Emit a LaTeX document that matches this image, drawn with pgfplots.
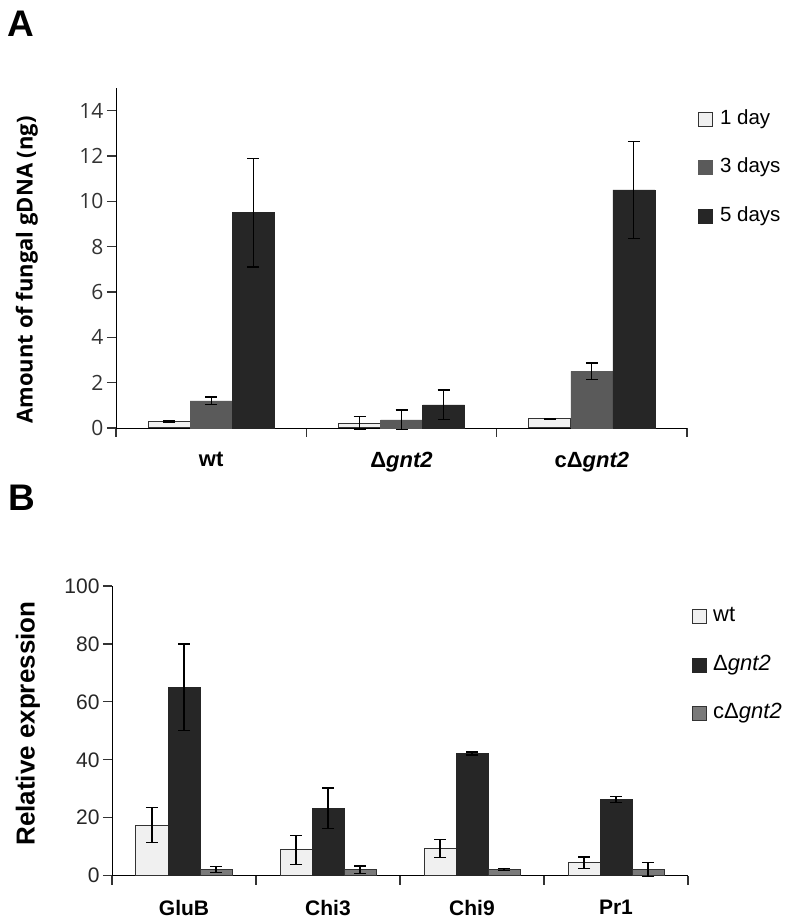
\documentclass[border=0pt]{standalone}
\usepackage{pgfplots}
\pgfplotsset{compat=1.18}
\usepackage{fontspec}
\setmainfont{Liberation Sans}
\newfontfamily\opensans{Open Sans}
\definecolor{light}{HTML}{F0F0F0}
\definecolor{midA}{HTML}{5A5A5A}
\definecolor{darkA}{HTML}{262626}
\definecolor{midB}{HTML}{7A7A7A}
\definecolor{edge}{HTML}{333333}
\pgfplotsset{
  myerr/.style={error bars/.cd, y dir=both, y explicit,
    error bar style={line width=1.3pt, color=black},
    error mark options={line width=1.3pt, mark size=6pt, color=black, rotate=90}},
  sqlegend/.style={legend image code/.code={\draw[##1, line width=1pt] (0pt,-7pt) rectangle (14pt,7pt);}},
}
\begin{document}
\begin{tikzpicture}[x=1pt,y=1pt]
\path[use as bounding box] (0,0) rectangle (790,921);
\node[font=\fontsize{37}{37}\selectfont\bfseries] at (21,897) {A};
\node[font=\fontsize{37}{37}\selectfont\bfseries] at (22,423) {B};

% ---------------- Panel A ----------------
\begin{axis}[
  at={(116pt,493pt)}, anchor=south west,
  width=571pt, height=340pt, scale only axis,
  xmin=-0.5, xmax=2.5, ymin=0, ymax=15,
  ybar=0pt, bar width=42pt,
  axis x line*=bottom, axis y line*=left,
  every axis line/.style={line width=1.2pt, color=edge},
  /pgf/number format/assume math mode=true,
  ytick={0,2,...,14},
  xtick={0,1,2},
  xticklabels={wt, Δ\textit{gnt2}, cΔ\textit{gnt2}},
  minor xtick={-0.5,0.5,1.5,2.5},
  major x tick style={draw=none},
  tick align=outside, major tick length=9pt, minor tick length=9pt,
  tick style={line width=1.2pt, color=edge},
  yticklabel style={font=\opensans\fontsize{21}{21}\selectfont, color=black!80},
  xticklabel style={font=\bfseries\fontsize{22}{22}\selectfont, yshift=-12pt},
  ylabel={Amount of fungal gDNA (ng)},
  ylabel style={font=\opensans\bfseries\fontsize{22}{22}\selectfont, at={(axis description cs:-0.156,0.465)}, anchor=center},
  sqlegend,
  legend style={draw=none, fill=none, at={(axis description cs:1.019,0.935)}, anchor=north west,
    font=\fontsize{20.5}{20.5}\selectfont, row sep=30.5pt, inner sep=0pt,
    nodes={inner sep=0pt, text height=14pt, text depth=4pt},
    /tikz/every odd column/.append style={column sep=7pt}},
  legend cell align=left,
  clip=false,
]
\addplot[fill=light, draw=edge, line width=1pt, myerr] coordinates {
  (0,0.30) +- (0,0.03) (1,0.22) +- (0,0.29) (2,0.40) +- (0,0.03)};
\addplot[fill=midA, draw=midA, line width=0.5pt, myerr] coordinates {
  (0,1.20) +- (0,0.17) (1,0.36) +- (0,0.44) (2,2.50) +- (0,0.37)};
\addplot[fill=darkA, draw=darkA, line width=0.5pt, myerr] coordinates {
  (0,9.50) +- (0,2.40) (1,1.02) +- (0,0.66) (2,10.50) +- (0,2.15)};
\legend{1 day, 3 days, 5 days}
\end{axis}

% ---------------- Panel B ----------------
\begin{axis}[
  at={(112pt,45.3pt)}, anchor=south west,
  width=576pt, height=289.7pt, scale only axis,
  xmin=-0.5, xmax=3.5, ymin=0, ymax=100,
  ybar=0pt, bar width=32pt,
  axis x line*=bottom, axis y line*=left,
  every axis line/.style={line width=1.2pt, color=edge},
  /pgf/number format/assume math mode=true,
  ytick={0,20,...,100},
  xtick={0,1,2,3},
  xticklabels={GluB, Chi3, Chi9, Pr1},
  minor xtick={-0.5,0.5,1.5,2.5,3.5},
  major x tick style={draw=none},
  tick align=outside, major tick length=9pt, minor tick length=9pt,
  tick style={line width=1.2pt, color=edge},
  yticklabel style={font=\fontsize{21}{21}\selectfont, color=black!85},
  xticklabel style={font=\bfseries\fontsize{21}{21}\selectfont, yshift=-12pt},
  ylabel={Relative expression},
  ylabel style={font=\bfseries\fontsize{26}{26}\selectfont, at={(axis description cs:-0.146,0.525)}, anchor=center},
  sqlegend,
  legend style={draw=none, fill=none, at={(axis description cs:1.007,0.926)}, anchor=north west,
    font=\fontsize{22}{22}\selectfont, row sep=30.5pt, inner sep=0pt,
    nodes={inner sep=0pt, text height=14pt, text depth=4pt},
    /tikz/every odd column/.append style={column sep=6pt}},
  legend cell align=left,
  clip=false,
]
\addplot[fill=light, draw=edge, line width=1pt, myerr] coordinates {
  (0,17.5) +- (0,6.0) (1,8.9) +- (0,5.0) (2,9.4) +- (0,3.0) (3,4.5) +- (0,2.0)};
\addplot[fill=darkA, draw=darkA, line width=0.5pt, myerr] coordinates {
  (0,65.0) +- (0,15.0) (1,23.3) +- (0,7.0) (2,42.2) +- (0,0.5) (3,26.3) +- (0,1.1)};
\addplot[fill=midB, draw=edge, line width=1pt, myerr] coordinates {
  (0,2.1) +- (0,1.0) (1,2.1) +- (0,1.3) (2,2.1) +- (0,0.3) (3,2.1) +- (0,2.4)};
\legend{wt, Δ\textit{gnt2}, cΔ\textit{gnt2}}
\end{axis}
\end{tikzpicture}
\end{document}
